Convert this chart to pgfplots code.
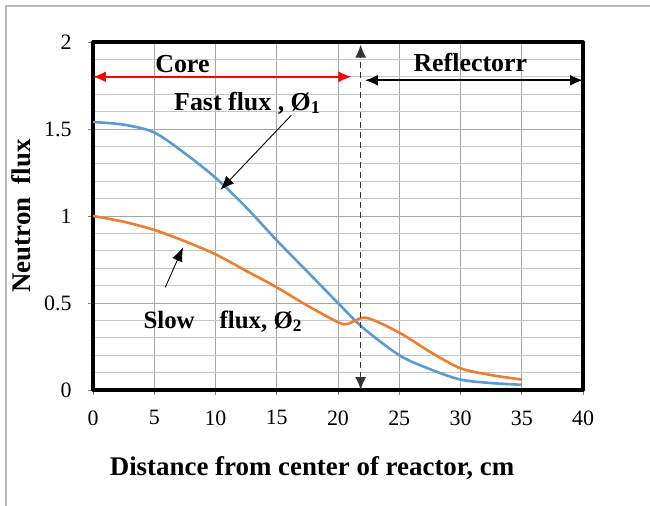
\documentclass[border=0pt]{standalone}
\usepackage{fontspec}
\setmainfont{Liberation Serif}
\usepackage{pgfplots}
\pgfplotsset{compat=1.18}
\usetikzlibrary{arrows.meta}

\definecolor{fastblue}{RGB}{91,155,213}
\definecolor{sloworange}{RGB}{237,125,49}

\begin{document}
\begin{tikzpicture}
% picture frame in bp: axis box lower-left corner at the origin
\path[use as bounding box] (-93bp,-116bp) rectangle (557bp,390bp);
\draw[gray!55, line width=1.2bp] (-87bp,-116bp) -- (-87bp,384bp) -- (557bp,384bp);
\begin{axis}[
    anchor=origin, at={(0,0)},
    scale only axis, width=490bp, height=348bp,
    xmin=0, xmax=40, ymin=0, ymax=2,
    xtick={0,5,...,40}, ytick={0,0.5,...,2},
    minor y tick num=4,
    grid=both,
    major grid style={gray!70, line width=0.8bp},
    minor grid style={gray!45, line width=0.8bp},
    axis line style={line width=3.2bp, line join=round},
    tick align=outside, xtick pos=bottom, ytick pos=left,
    major tick length=5bp, minor tick length=0pt,
    tick style={gray, line width=0.8bp},
    /pgf/number format/assume math mode=true,
    ticklabel style={font=\fontsize{22}{26}\selectfont},
    xticklabel style={yshift=-12bp},
    yticklabel style={xshift=-13bp},
    xlabel={\bfseries Distance from center of reactor, cm},
    ylabel={\bfseries Neutron\ \ flux},
    label style={font=\fontsize{27}{30}\selectfont},
    xlabel style={xshift=-26bp, yshift=-24bp},
    ylabel style={yshift=6bp},
]
\addplot[fastblue, line width=2.6bp, smooth, tension=0.5] coordinates {
    (0,1.54) (2.5,1.525) (5,1.48) (7.5,1.36) (10,1.22) (12.5,1.05)
    (15,0.86) (17.5,0.68) (20,0.50) (22,0.36) (25,0.20) (27.5,0.12)
    (30,0.06) (32.5,0.04) (35,0.03)
};
\addplot[sloworange, line width=2.6bp, smooth, tension=0.5] coordinates {
    (0,1.0) (2.5,0.967) (5,0.92) (7.5,0.855) (10,0.78) (12.5,0.685)
    (15,0.59) (17.5,0.485) (20,0.39) (20.8,0.38) (22.3,0.415) (25,0.33)
    (27.5,0.22) (30,0.125) (32.5,0.086) (35,0.06)
};
% region markers
\draw[red, line width=1.6bp, {Latex[length=13bp,width=11bp]}-{Latex[length=13bp,width=11bp]}]
    (axis cs:0,1.80) -- (axis cs:21.1,1.80);
\draw[black, line width=1.6bp, {Latex[length=13bp,width=11bp]}-{Latex[length=13bp,width=11bp]}]
    (axis cs:22.2,1.78) -- (axis cs:40,1.78);
\draw[black!80, line width=1.4bp, dash pattern=on 6bp off 4bp,
      {Latex[length=13bp,width=11bp]}-{Latex[length=13bp,width=11bp]}]
    (axis cs:21.85,0.0) -- (axis cs:21.85,1.985);
\node[font=\fontsize{26}{28}\selectfont\bfseries] at (axis cs:7.3,1.875) {Core};
\node[font=\fontsize{26}{28}\selectfont\bfseries] at (axis cs:30.8,1.885) {Reflectorr};
% curve labels
\node[font=\fontsize{26}{28}\selectfont\bfseries] at (axis cs:12.6,1.65) {Fast flux , Ø\textsubscript{1}};
\node[font=\fontsize{25}{28}\selectfont\bfseries] at (axis cs:10.6,0.395) {Slow\quad flux,\ Ø\textsubscript{2}};
\draw[black, line width=0.9bp, -{Latex[length=14bp,width=11bp]}]
    (axis cs:16.2,1.58) -- (axis cs:10.4,1.15);
\draw[black, line width=0.9bp, -{Latex[length=14bp,width=11bp]}]
    (axis cs:5.9,0.59) -- (axis cs:7.35,0.82);
\end{axis}
\end{tikzpicture}
\end{document}
